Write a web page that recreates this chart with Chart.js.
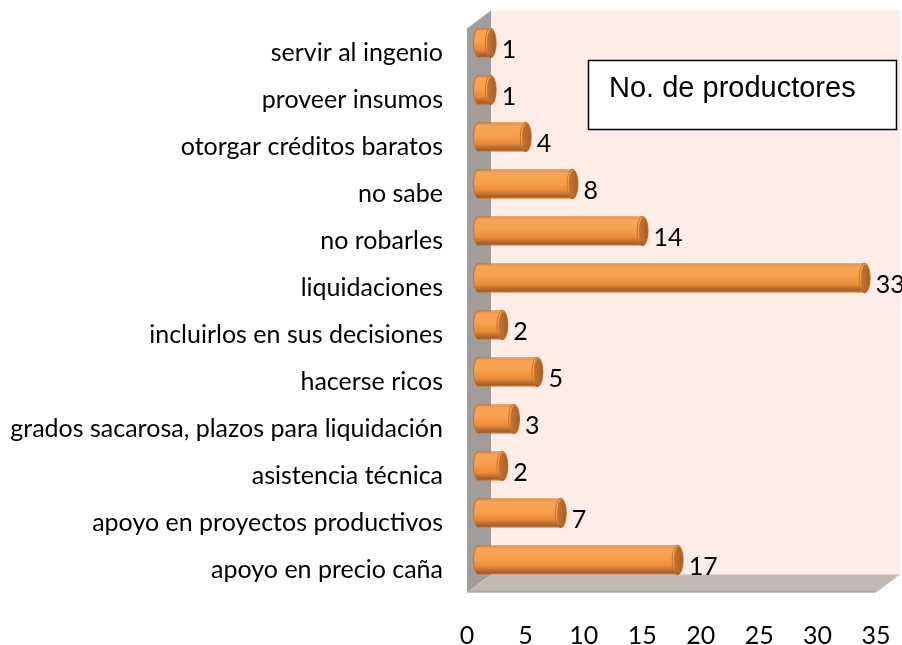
<!DOCTYPE html>
<html>
<head>
<meta charset="utf-8">
<script src="https://cdn.jsdelivr.net/npm/chart.js@4/dist/chart.umd.min.js"></script>
<style>
  body { margin: 0; background: #fff; }
  #wrap { width: 902px; height: 645px; }
</style>
</head>
<body>
<div id="wrap"><canvas id="barChart" width="902" height="645"></canvas></div>
<script>
var categories = [
  'servir al ingenio',
  'proveer insumos',
  'otorgar créditos baratos',
  'no sabe',
  'no robarles',
  'liquidaciones',
  'incluirlos en sus decisiones',
  'hacerse ricos',
  'grados sacarosa, plazos para liquidación',
  'asistencia técnica',
  'apoyo en proyectos productivos',
  'apoyo en precio caña'
]
var productores = [1, 1, 4, 8, 14, 33, 2, 5, 3, 2, 7, 17]
var seriesName = 'No. de productores'
var xTicks = [0, 5, 10, 15, 20, 25, 30, 35]

var DEPTH_X = 12
var DEPTH_Y = 9
var CAP_RX = 5.5
var labelFont = '25px Lato, "Open Sans", sans-serif'

// scale paddings would push the plot area around, drop them
function noPadding(scale) {
  scale.paddingTop = 0
  scale.paddingBottom = 0
  scale.paddingLeft = 0
  scale.paddingRight = 0
}

function cylGradient(ctx, y, h) {
  var g = ctx.createLinearGradient(0, y - h / 2, 0, y + h / 2)
  g.addColorStop(0, '#d4833b')
  g.addColorStop(0.12, '#f9a455')
  g.addColorStop(0.45, '#f8a04c')
  g.addColorStop(0.72, '#ea8b3a')
  g.addColorStop(0.87, '#b8692a')
  g.addColorStop(1, '#92501d')
  return g
}

// 3d walls behind the bars, cylinder ends and value labels
var wallsPlugin = {
  id: 'walls',
  beforeDatasetsDraw: function (chart) {
    var ctx = chart.ctx
    var a = chart.chartArea
    ctx.save()
    // back wall
    ctx.fillStyle = '#fdede6'
    ctx.fillRect(a.left + DEPTH_X, a.top - DEPTH_Y, a.right - a.left, a.bottom - a.top)
    // left wall
    ctx.fillStyle = '#a29d9a'
    ctx.beginPath()
    ctx.moveTo(a.left - DEPTH_X, a.top + DEPTH_Y)
    ctx.lineTo(a.left + DEPTH_X, a.top - DEPTH_Y)
    ctx.lineTo(a.left + DEPTH_X, a.bottom - DEPTH_Y)
    ctx.lineTo(a.left - DEPTH_X, a.bottom + DEPTH_Y)
    ctx.closePath()
    ctx.fill()
    // floor
    ctx.fillStyle = '#c3b9b4'
    ctx.beginPath()
    ctx.moveTo(a.left - DEPTH_X, a.bottom + DEPTH_Y)
    ctx.lineTo(a.right - DEPTH_X, a.bottom + DEPTH_Y)
    ctx.lineTo(a.right + DEPTH_X, a.bottom - DEPTH_Y)
    ctx.lineTo(a.left + DEPTH_X, a.bottom - DEPTH_Y)
    ctx.closePath()
    ctx.fill()
    ctx.fillStyle = '#b0a6a2'
    ctx.fillRect(a.left - DEPTH_X, a.bottom + DEPTH_Y - 2, a.right - a.left, 2)
    ctx.restore()
  },
  afterDatasetsDraw: function (chart) {
    var ctx = chart.ctx
    var meta = chart.getDatasetMeta(0)
    ctx.save()
    meta.data.forEach(function (bar, i) {
      var h = bar.height
      var grad = cylGradient(ctx, bar.y, h)
      // left rounded end
      ctx.beginPath()
      ctx.ellipse(bar.base, bar.y, CAP_RX, h / 2, 0, Math.PI / 2, Math.PI * 1.5)
      ctx.fillStyle = grad
      ctx.fill()
      ctx.strokeStyle = '#c9742f'
      ctx.lineWidth = 1
      ctx.stroke()
      // right end: rim + face
      ctx.beginPath()
      ctx.ellipse(bar.x, bar.y, CAP_RX, h / 2, 0, 0, Math.PI * 2)
      ctx.fillStyle = grad
      ctx.fill()
      ctx.strokeStyle = '#c9742f'
      ctx.stroke()
      var face = ctx.createLinearGradient(bar.x - CAP_RX, 0, bar.x + CAP_RX, 0)
      face.addColorStop(0, '#c97b39')
      face.addColorStop(1, '#a65e27')
      ctx.beginPath()
      ctx.ellipse(bar.x + 0.8, bar.y, CAP_RX - 1, h / 2 - 1.5, 0, 0, Math.PI * 2)
      ctx.fillStyle = face
      ctx.fill()
      // value label
      ctx.fillStyle = '#000'
      ctx.font = labelFont
      ctx.textAlign = 'left'
      ctx.textBaseline = 'middle'
      ctx.fillText(String(productores[i]), bar.x + 11, bar.y + 7)
    })
    ctx.restore()
  },
  afterDraw: function (chart) {
    // legend box
    var ctx = chart.ctx
    ctx.save()
    ctx.fillStyle = '#fff'
    ctx.fillRect(588, 60, 309, 70)
    ctx.strokeStyle = '#000'
    ctx.lineWidth = 1.5
    ctx.strokeRect(588.5, 60.5, 308, 69)
    ctx.fillStyle = '#000'
    ctx.font = '29px "Liberation Sans", Arial, sans-serif'
    ctx.textAlign = 'left'
    ctx.textBaseline = 'middle'
    ctx.fillText(seriesName, 609, 89)
    ctx.restore()
  }
}

function barGradient(context) {
  var chart = context.chart
  var yScale = chart.scales.y
  if (!yScale || !chart.chartArea) return '#f7a050'
  var y = yScale.getPixelForValue(context.dataIndex)
  var h = yScale.getPixelForValue(1) - yScale.getPixelForValue(0)
  return cylGradient(chart.ctx, y, h * 0.63)
}

var barChartCanvas = document.getElementById('barChart').getContext('2d')

var barChart = new Chart(barChartCanvas, {
  type: 'bar',
  data: {
    labels: categories,
    datasets: [{
      label: seriesName,
      data: productores,
      backgroundColor: barGradient,
      borderColor: '#c9742f',
      borderWidth: 1,
      borderSkipped: 'start',
      borderRadius: 0,
      barPercentage: 0.63,
      categoryPercentage: 1,
      clip: false
    }]
  },
  plugins: [wallsPlugin],
  options: {
    indexAxis: 'y',
    responsive: false,
    animation: false,
    layout: { padding: { top: 19.5, right: 14, left: 0, bottom: 0 } },
    plugins: {
      legend: { display: false },
      tooltip: { enabled: false }
    },
    scales: {
      x: {
        min: 0,
        max: 35,
        afterBuildTicks: function (scale) {
          scale.ticks = xTicks.map(function (v) { return { value: v } })
        },
        afterFit: function (scale) {
          scale.height = 61.5
          noPadding(scale)
        },
        grid: { display: false, drawTicks: false },
        border: { display: false },
        ticks: {
          color: '#000',
          font: { family: 'Lato', size: 25 },
          padding: 37,
          labelOffset: -DEPTH_X,
          maxRotation: 0
        }
      },
      y: {
        afterFit: function (scale) {
          scale.width = 479
          noPadding(scale)
        },
        grid: { display: false, drawTicks: false },
        border: { display: false },
        ticks: {
          color: '#000',
          font: { family: 'Lato', size: 25 },
          padding: 36,
          labelOffset: 10,
          autoSkip: false
        }
      }
    }
  }
})
</script>
</body>
</html>
